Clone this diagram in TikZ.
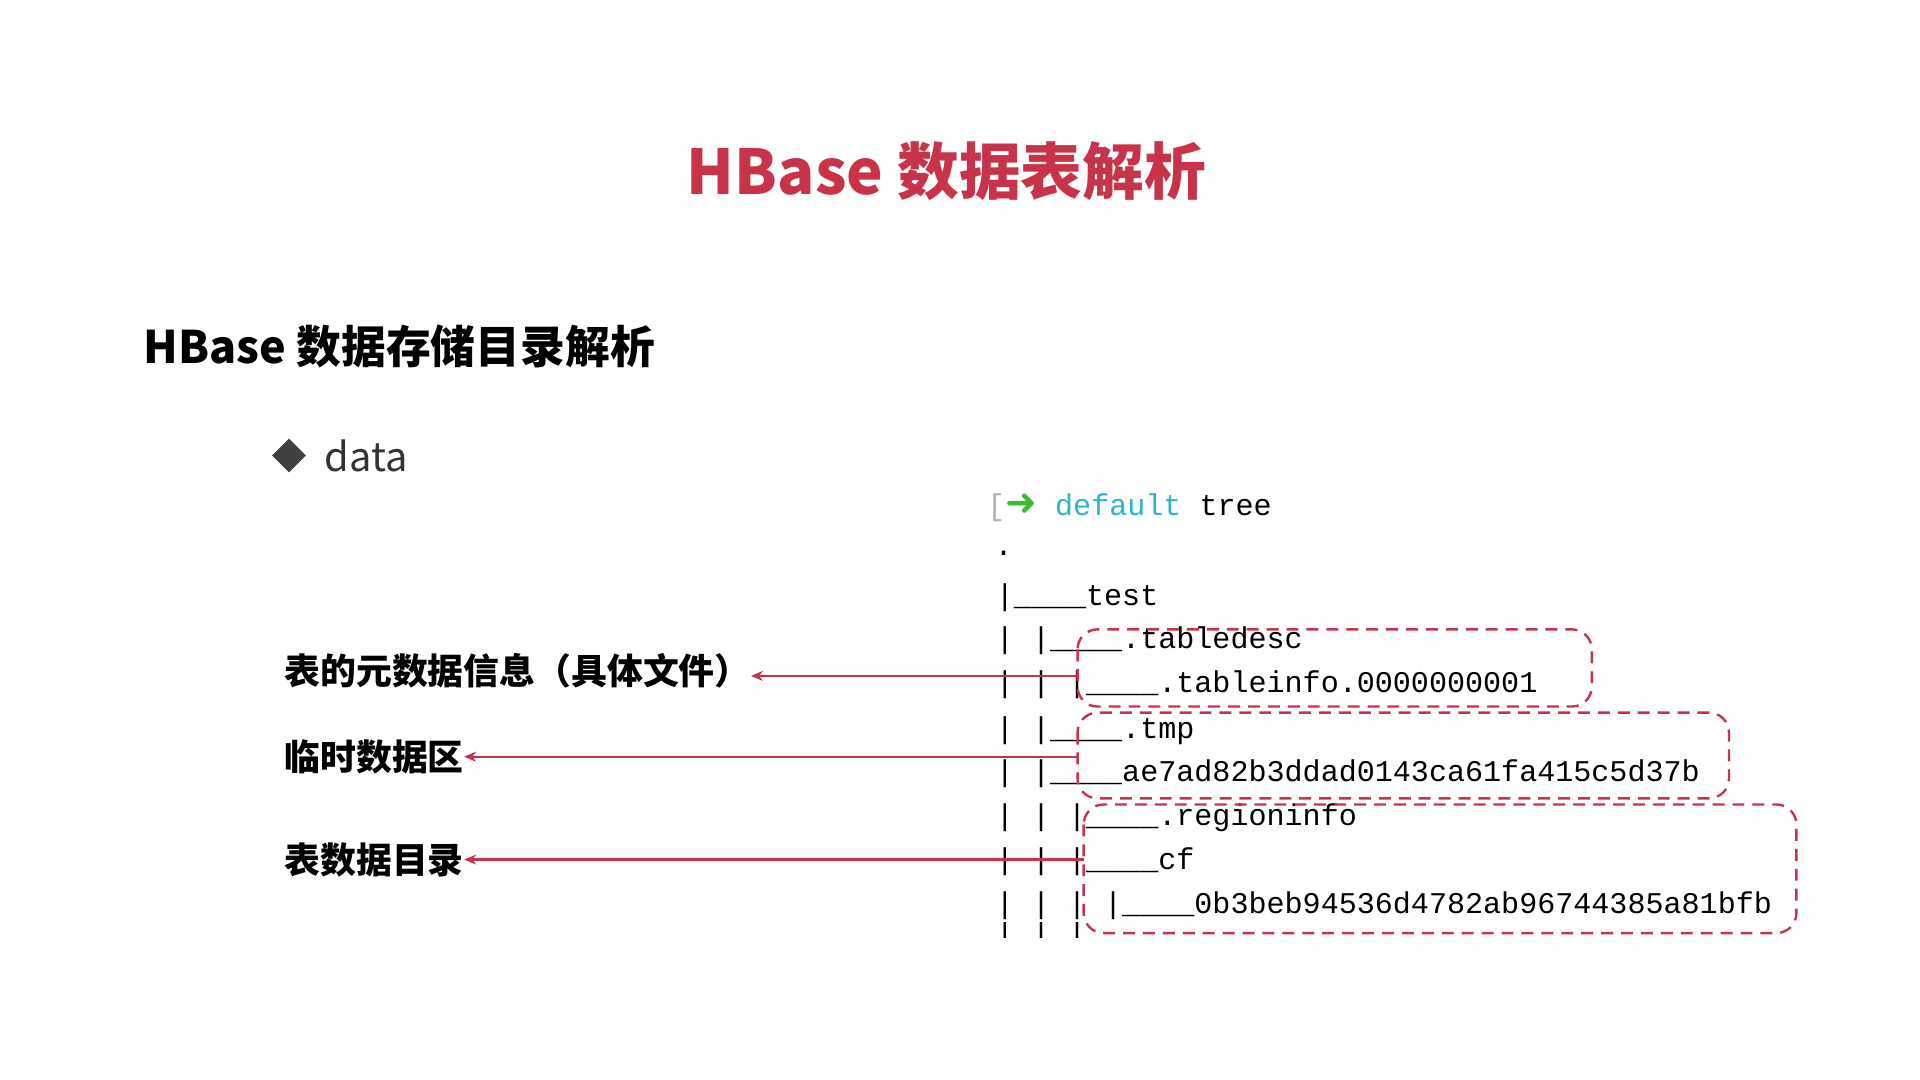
\documentclass[tikz,border=0pt]{standalone}
\usepackage{fontspec}
\usetikzlibrary{arrows.meta}
\newfontfamily\cjk{Noto Sans CJK SC}
\newfontfamily\mono{Liberation Mono}
\newfontfamily\sym{DejaVu Sans}
\definecolor{hbred}{HTML}{C8334A}
\definecolor{termcyan}{HTML}{2FB5C8}
\definecolor{termgreen}{HTML}{3DBE2E}
\tikzset{
  line/.style={anchor=west,inner sep=0,font=\mono\fontsize{15.1}{15.1}\selectfont},
  note/.style={anchor=west,inner sep=0,font=\cjk\bfseries\fontsize{18}{18}\selectfont},
  box/.style={draw=hbred,dashed,line width=1.2pt,rounded corners=10pt,dash pattern=on 6pt off 4pt},
  pointer/.style={draw=hbred,line width=1.2pt,-{Stealth[length=6pt,width=5pt]}}
}
\begin{document}
\begin{tikzpicture}[x=0.0216cm,y=-0.0216cm]
\useasboundingbox (0,0) rectangle (1568,882);
% headings
\node[font=\cjk\bfseries\fontsize{31}{31}\selectfont,text=hbred] (title) at (773,140) {HBase 数据表解析};
\node[anchor=west,inner sep=0,font=\cjk\bfseries\fontsize{22.5}{22.5}\selectfont] (sub) at (117,283) {HBase 数据存储目录解析};
\node[fill=black!75,inner sep=0,rotate=45,minimum width=12pt,minimum height=12pt] (bullet) at (236,372) {};
\node[anchor=west,inner sep=0,font=\cjk\fontsize{20}{20}\selectfont,text=black!80] (data) at (265,372) {data};
% terminal output
\node[line] (cmd) at (806,415) {{\color{black!30}[}{\sym\bfseries\fontsize{19}{19}\selectfont\color{termgreen}➜} \textcolor{termcyan}{default} tree};
\node[line] (l0) at (812,452) {.};
\node[line] (l1) at (813,488) {|\_\_\_\_test};
\node[line] (l2) at (813,523) {| |\_\_\_\_.tabledesc};
\node[line] (l3) at (813,559) {| | |\_\_\_\_.tableinfo.0000000001};
\node[line] (l4) at (813,597) {| |\_\_\_\_.tmp};
\node[line] (l5) at (813,632) {| |\_\_\_\_ae7ad82b3ddad0143ca61fa415c5d37b};
\node[line] (l6) at (813,668) {| | |\_\_\_\_.regioninfo};
\node[line] (l7) at (813,704) {| | |\_\_\_\_cf};
\node[line] (l8) at (813,740) {| | | |\_\_\_\_0b3beb94536d4782ab96744385a81bfb};
\begin{scope}
  \clip (800,753) rectangle (900,766);
  \node[line] (l9) at (813,764) {| | |};
\end{scope}
% dashed groups
\draw[box] (880,514) rectangle (1300,577);
\draw[box] (880,582) rectangle (1412,652);
\draw[box] (885,657) rectangle (1467,762);
\coordinate (g1) at (880,552);
\coordinate (g2) at (880,618);
\coordinate (g3) at (885,702);
% notes
\node[note] (n1) at (232,548) {表的元数据信息（具体文件）};
\node[note] (n2) at (232,618) {临时数据区};
\node[note] (n3) at (232,702) {表数据目录};
\draw[pointer] (g1) -- (g1 -| n1.east);
\draw[pointer] (g2) -- (g2 -| n2.east);
\draw[pointer] (g3) -- (g3 -| n3.east);
\end{tikzpicture}
\end{document}
